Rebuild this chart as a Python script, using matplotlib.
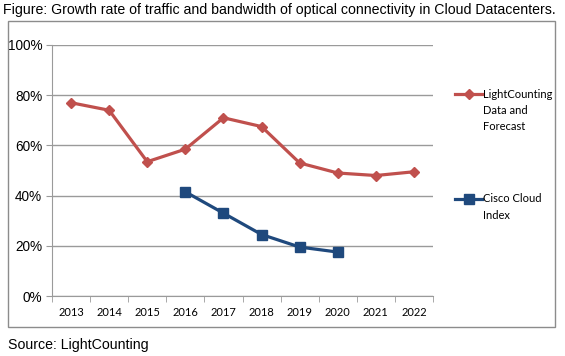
import matplotlib.pyplot as plt
from matplotlib.lines import Line2D
from matplotlib.patches import Rectangle

years = ['2013', '2014', '2015', '2016', '2017', '2018', '2019', '2020', '2021', '2022']
lightcounting = [77, 74, 53.5, 58.5, 71, 67.5, 53, 49, 48, 49.5]
cisco_years = ['2016', '2017', '2018', '2019', '2020']
cisco = [41.5, 33, 24.5, 19.5, 17.5]
y_ticks = [0, 20, 40, 60, 80, 100]

red = '#c0504d'
blue = '#1f497d'
grid_gray = '#9a9a9a'
narrow = ['Lato', 'DejaVu Sans']
arial = ['Liberation Sans', 'DejaVu Sans']

fig = plt.figure(figsize=(5.65, 3.56), dpi=100)

# Marco exterior
fig.patches.append(Rectangle((8 / 565, 1 - 327 / 356), 547 / 565, 306 / 356,
                             transform=fig.transFigure, fill=False,
                             edgecolor='#8c8c8c', linewidth=1))

ax = fig.add_axes([52 / 565, 1 - 296 / 356, 381 / 565, 251 / 356])

x = list(range(len(years)))
xc = [years.index(y) for y in cisco_years]

ax.plot(x, lightcounting, color=red, linewidth=2.3, marker='D', markersize=5,
        markeredgecolor=red, zorder=3)
ax.plot(xc, cisco, color=blue, linewidth=2.3, marker='s', markersize=6.5,
        markeredgecolor=blue, zorder=3)

ax.set_xlim(-0.5, len(years) - 0.5)
ax.set_ylim(0, 100)
ax.set_yticks(y_ticks)
ax.set_yticklabels([f'{v}%' for v in y_ticks], family=arial, fontsize=9.8)
ax.set_xticks(x)
ax.set_xticklabels(years, family=narrow, fontsize=8)
ax.set_xticks([i - 0.5 for i in range(len(years) + 1)], minor=True)
ax.tick_params(axis='x', which='major', length=0, pad=8)
ax.tick_params(axis='x', which='minor', length=4, color=grid_gray, direction='out')
ax.tick_params(axis='y', length=4, color=grid_gray, direction='out', pad=3)

ax.grid(axis='y', color=grid_gray, linewidth=1)
ax.set_axisbelow(True)
for s in ['top', 'right']:
    ax.spines[s].set_visible(False)
for s in ['left', 'bottom']:
    ax.spines[s].set_color(grid_gray)

# Leyenda manual
def entrada(y_px, color, marker, ms, lineas):
    yf = 1 - y_px / 356
    fig.add_artist(Line2D([455 / 565, 482 / 565], [yf, yf], color=color, linewidth=2.3,
                          transform=fig.transFigure))
    fig.add_artist(Line2D([468.5 / 565], [yf], color=color, marker=marker, markersize=ms,
                          transform=fig.transFigure))
    for i, t in enumerate(lineas):
        fig.text(483 / 565, 1 - (y_px + i * 16.5) / 356, t, family=narrow, fontsize=8,
                 va='center', ha='left')

entrada(94, red, 'D', 5, ['LightCounting', 'Data and', 'Forecast'])
entrada(199, blue, 's', 6.5, ['Cisco Cloud', 'Index'])

fig.text(3 / 565, 1 - 10 / 356, 'Figure: Growth rate of traffic and bandwidth of optical connectivity in Cloud Datacenters.',
         family=arial, fontsize=10.2, va='center', ha='left')
fig.text(8 / 565, 1 - 345 / 356, 'Source: LightCounting', family=arial, fontsize=10.2,
         va='center', ha='left')

fig.savefig('out.png', dpi=100)
